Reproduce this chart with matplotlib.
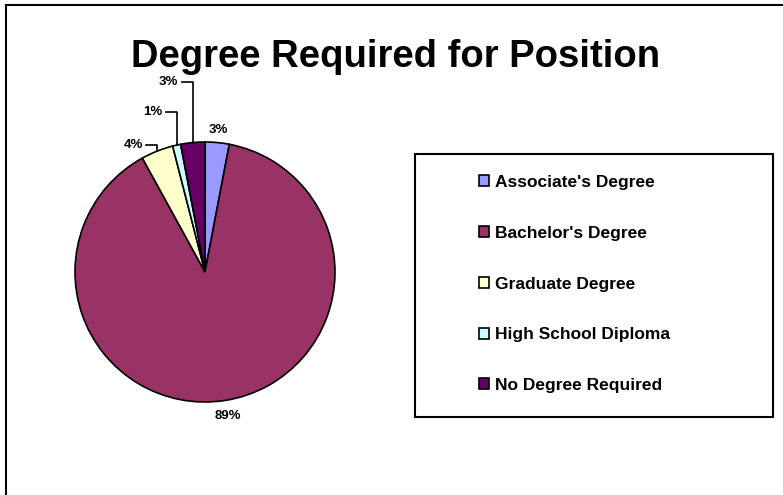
import numpy as np
import matplotlib.pyplot as plt
from matplotlib.patches import Rectangle
from matplotlib.lines import Line2D

# dados do grafico
categorias = ["Associate's Degree", "Bachelor's Degree", "Graduate Degree",
              "High School Diploma", "No Degree Required"]
valores = [3, 89, 4, 1, 3]
cores = ["#9999FF", "#993366", "#FFFFCC", "#CCFFFF", "#660066"]

plt.rcParams['font.family'] = ['Liberation Sans', 'DejaVu Sans']

fig = plt.figure(figsize=(7.83, 4.95), dpi=100)

# moldura externa (so lados esquerdo e superior aparecem)
fig.add_artist(Line2D([6/783, 6/783], [0, 1 - 5/495], color='black', lw=1.5))
fig.add_artist(Line2D([6/783, 1], [1 - 5/495, 1 - 5/495], color='black', lw=1.5))

fig.text(0.505, 1 - 57/495, "Degree Required for Position", ha='center',
         va='center', fontsize=27.5, fontweight='bold')

# eixo da pizza: centro (205, 272), raio 130 px
cx, cy, r = 205, 272, 130
ax = fig.add_axes([(cx - r)/783, (495 - cy - r)/495, 2*r/783, 2*r/495])
wedges, _ = ax.pie(valores, colors=cores, startangle=90, counterclock=False,
                   radius=1, wedgeprops=dict(edgecolor='black', linewidth=1.2))
ax.set_xlim(-1, 1)
ax.set_ylim(-1, 1)
ax.set_aspect('equal')
ax.axis('off')

rotulos = [f"{v:.0f}%" for v in valores]
estilo = dict(fontsize=9.5, fontweight='bold', clip_on=False)

# rotulos diretos
for i, dist in ((0, 1.1), (1, 1.12)):
    w = wedges[i]
    ang = np.deg2rad((w.theta1 + w.theta2) / 2)
    ax.text(dist * np.cos(ang), dist * np.sin(ang), rotulos[i],
            ha='center', va='center', **estilo)

# rotulos com linha de chamada: altura do rotulo
alturas = {2: 0.98, 3: 1.23, 4: 1.46}
for i, yt in alturas.items():
    w = wedges[i]
    ang = np.deg2rad((w.theta1 + w.theta2) / 2)
    ex, ey = np.cos(ang), np.sin(ang)
    xt = ex - 0.11
    ax.text(xt, yt, rotulos[i], ha='right', va='center', **estilo)
    ax.plot([xt + 0.025, ex, ex], [yt, yt, ey], color='black', lw=1.2,
            clip_on=False)

# legenda com caixa
fig.add_artist(Rectangle((415/783, (495 - 417)/495), 358/783, 263/495,
                         fill=False, edgecolor='black', lw=1.5))
leg = fig.legend(wedges, categorias, loc='upper left',
                 bbox_to_anchor=(479/783, 1 - 175/495), frameon=False,
                 prop=dict(size=12.5, weight='bold'), handlelength=0.6,
                 handleheight=0.6, handletextpad=0.35, labelspacing=2.06,
                 borderpad=0, borderaxespad=0)

fig.savefig("out.png", dpi=100)
